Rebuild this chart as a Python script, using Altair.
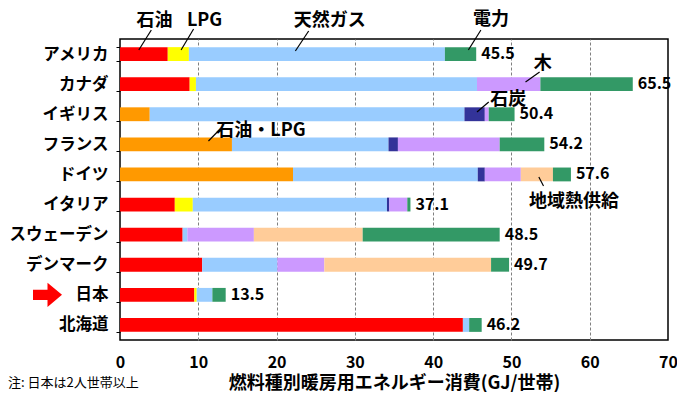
import altair as alt
import pandas as pd

countries = ["アメリカ", "カナダ", "イギリス", "フランス", "ドイツ", "イタリア",
             "スウェーデン", "デンマーク", "日本", "北海道"]
fuels = ["石油", "LPG", "石油・LPG", "天然ガス", "石炭", "木", "地域熱供給", "電力"]
fuel_colors = ["#FF0000", "#FFFF00", "#FF9900", "#99CCFF", "#333399", "#CC99FF", "#FFCC99", "#339966"]

oil      = [6.1, 8.9, 0.0, 0.0, 0.0, 7.0, 8.0, 10.5, 9.5, 43.8]
lpg      = [2.7, 0.8, 0.0, 0.0, 0.0, 2.3, 0.0, 0.0, 0.3, 0.0]
oil_lpg  = [0.0, 0.0, 3.8, 14.3, 22.1, 0.0, 0.0, 0.0, 0.0, 0.0]
gas      = [32.7, 35.9, 40.2, 20.0, 23.6, 24.8, 0.6, 9.6, 2.0, 0.8]
coal     = [0.0, 0.0, 2.6, 1.2, 0.9, 0.3, 0.0, 0.0, 0.0, 0.0]
wood     = [0.0, 8.1, 0.5, 13.0, 4.6, 2.3, 8.5, 6.0, 0.0, 0.0]
district = [0.0, 0.0, 0.0, 0.0, 4.1, 0.0, 13.9, 21.3, 0.0, 0.0]
elec     = [4.0, 11.8, 3.3, 5.7, 2.3, 0.4, 17.5, 2.3, 1.7, 1.6]
totals   = [45.5, 65.5, 50.4, 54.2, 57.6, 37.1, 48.5, 49.7, 13.5, 46.2]

x_ticks = [0, 10, 20, 30, 40, 50, 60, 70]

# annotation labels (x in GJ, y in pixels from plot top) and leader lines
ann_text = ["石油", "LPG", "天然ガス", "電力", "木", "石炭", "石油・LPG", "地域熱供給"]
ann_x    = [4.4, 10.8, 26.8, 47.4, 54.0, 49.6, 18.0, 58.0]
ann_y    = [-18, -18, -18, -19, 25, 61, 92, 163]
line_x1  = [4.0, 9.4, 24.1, 46.1, 53.6, 47.1, 12.8, 53.5]
line_x2  = [2.4, 7.8, 22.4, 44.5, 51.8, 45.6, 11.3, 54.1]
line_y1  = [-9, -10, -8, -9, 33, 63, 90, 138]
line_y2  = [11, 11, 12, 11, 43, 73, 102, 147]

FONT = "Noto Sans CJK JP"

series = [oil, lpg, oil_lpg, gas, coal, wood, district, elec]
rows = []
for fi, (f, vals) in enumerate(zip(fuels, series)):
    for c, v in zip(countries, vals):
        if v > 0:
            rows.append({"country": c, "fuel": f, "order": fi, "value": v})
bars_df = pd.DataFrame(rows)
tot_df = pd.DataFrame({"country": countries, "total": totals,
                       "label": [f"{t:.1f}" for t in totals]})
ann_df = pd.DataFrame({"text": ann_text, "x": ann_x, "y": ann_y})
line_df = pd.DataFrame({"x1": line_x1, "x2": line_x2, "y1": line_y1, "y2": line_y2})
arrow_df = pd.DataFrame({"country": ["日本"]})
note_df = pd.DataFrame({"note": ["注: 日本は2人世帯以上"]})

xscale = alt.Scale(domain=[0, 70], nice=False, zero=True)
yscale = alt.Scale(domain=countries, paddingInner=0.54, paddingOuter=0.27)

bars = alt.Chart(bars_df).mark_bar().encode(
    x=alt.X("value:Q", stack="zero", scale=xscale,
            axis=alt.Axis(values=x_ticks, title="燃料種別暖房用エネルギー消費(GJ/世帯)",
                          grid=True, gridDash=[3, 2], gridColor="#808080", gridWidth=1,
                          gridOpacity={"expr": "datum.value > 0 && datum.value < 70 ? 1 : 0"},
                          domain=False, ticks=False, labelPadding=14, labelFlush=False,
                          labelFont=FONT, labelFontSize=16, labelFontWeight="bold",
                          labelColor="black", titleFont=FONT, titleFontSize=18,
                          titleFontWeight="bold", titleColor="black", titlePadding=4)),
    y=alt.Y("country:N", scale=yscale, sort=countries,
            axis=alt.Axis(title=None, domain=False, tickBand="extent", tickSize=4,
                          tickColor="black", labelPadding=8, labelFont=FONT,
                          labelFontSize=16.5, labelFontWeight="bold", labelColor="black")),
    color=alt.Color("fuel:N", scale=alt.Scale(domain=fuels, range=fuel_colors), legend=None),
    order=alt.Order("order:Q"),
)

tot = alt.Chart(tot_df).mark_text(align="left", baseline="middle", dx=5, font=FONT,
                                  fontSize=16, fontWeight="bold", color="black").encode(
    x=alt.X("total:Q", scale=xscale),
    y=alt.Y("country:N", scale=yscale, sort=countries, axis=None),
    text="label:N")

arrow = alt.Chart(arrow_df).mark_point(
    shape="M-1,-0.35L0,-0.35L0,-0.83L1,0L0,0.83L0,0.35L-1,0.35Z",
    filled=True, fill="#FF0000", stroke="#FF0000", strokeWidth=0, opacity=1, size=841).encode(
    x=alt.value(-72.5), y=alt.Y("country:N", scale=yscale, sort=countries, axis=None))

ann = alt.Chart(ann_df).mark_text(align="center", baseline="middle", font=FONT,
                                  fontSize=18, fontWeight="bold", color="black").encode(
    x=alt.X("x:Q", scale=xscale), y=alt.Y("y:Q", scale=None, axis=None),
    text="text:N")

lines = alt.Chart(line_df).mark_rule(color="black", strokeWidth=1.2).encode(
    x=alt.X("x1:Q", scale=xscale), x2="x2:Q",
    y=alt.Y("y1:Q", scale=None, axis=None), y2="y2:Q")

note = alt.Chart(note_df).mark_text(align="left", baseline="middle", font=FONT,
                                    fontSize=13, color="black").encode(
    x=alt.value(-112), y=alt.value(344), text="note:N")

chart = alt.layer(bars, tot, arrow, lines, ann, note).resolve_scale(y="independent").properties(
    width=548, height=301,
    autosize=alt.AutoSizeParams(type="none"),
    padding={"left": 112, "top": 31, "right": 9, "bottom": 52},
).configure_view(stroke="black", strokeWidth=1.5)

chart.save("out.html", embed_options={"renderer": "svg", "actions": False})
